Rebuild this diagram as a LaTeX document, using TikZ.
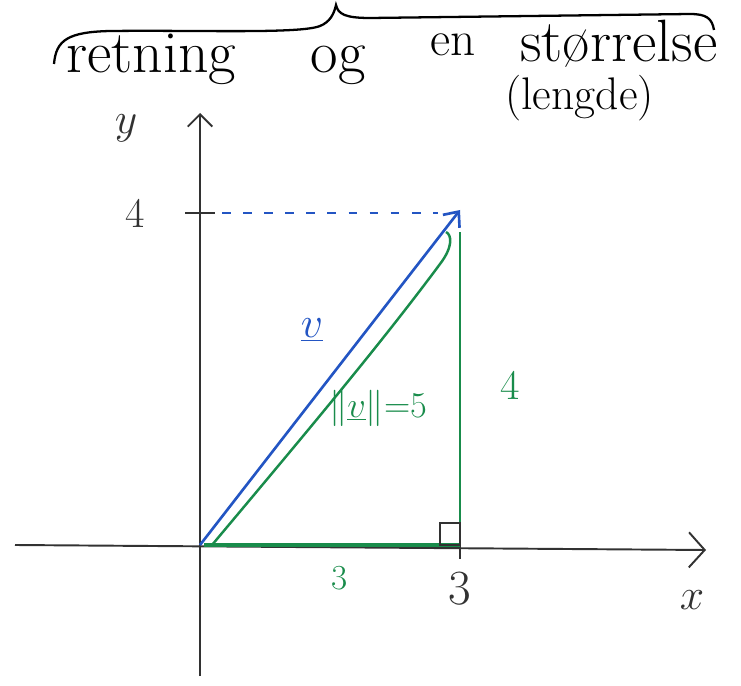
\documentclass[tikz,border=0pt]{standalone}
\usepackage{tikz}
\usetikzlibrary{arrows.meta,positioning}
\definecolor{penblue}{RGB}{35,85,195}
\definecolor{pengreen}{RGB}{25,140,75}
\definecolor{pencil}{RGB}{50,50,50}

\begin{document}
\begin{tikzpicture}[x=0.02cm, y=-0.02cm,
  axis/.style={draw=pencil, line width=1.1pt},
  vec/.style={draw=penblue, line width=1.5pt, -{Straight Barb[length=7pt,width=12pt]}},
  side/.style={draw=pengreen, line width=1.1pt},
  hand/.style={font=\fontsize{34}{36}\selectfont, inner sep=0pt, text=black},
  lbl/.style={font=\fontsize{24}{26}\selectfont, inner sep=1pt}]
  \useasboundingbox (0,0) rectangle (741,686);
  % points
  \coordinate (O) at (200,545);
  \coordinate (P) at (460,210);
  \coordinate (F) at (460,545);
  \coordinate (Ptop) at (460,232);
  \coordinate (xstart) at (15,545);
  \coordinate (xend) at (706,550);
  \coordinate (ystart) at (200,676);
  \coordinate (yend) at (200,113);
  \coordinate (ytick) at (200,213);
  % axes
  \draw[axis, -{Straight Barb[length=9pt,width=20pt]}] (xstart) -- (xend);
  \draw[axis, -{Straight Barb[length=7pt,width=14pt]}] (ystart) -- (yend);
  \node[lbl, text=pencil] (xlab) at (692,600) {$x$};
  \node[lbl, text=pencil] (ylab) at (126,128) {$y$};
  \draw[axis] (ytick) +(-15,0) -- +(15,0);
  \draw[axis] (F) -- +(0,14);
  \node[lbl, text=pencil, left=30pt of ytick] (four) {4};
  \node[lbl, text=pencil, below=14pt of F, font=\fontsize{28}{30}\selectfont] (three) {3};
  % triangle
  \draw[side, line width=2.4pt] (O) ++(4,0) -- (F);
  \draw[side] (F) -- (Ptop);
  \draw[pencil, line width=1.6pt] (F) rectangle +(-20,-22);
  \draw[side, line width=1.4pt] (O) ++(12,0) .. controls (300,440) and (380,345) .. (440,264)
    .. controls (453,247) and (452,235) .. (446,232);
  \draw[penblue, dashed, line width=1.2pt, dash pattern=on 5pt off 7pt] (ytick) ++(22,0) -- (438,213);
  \draw[vec] (O) -- (P);
  % labels
  \node[lbl, text=penblue, font=\fontsize{30}{32}\selectfont] (vlab) at (312,330) {$\underline{v}$};
  \node[lbl, text=pengreen, font=\fontsize{22}{24}\selectfont] (norm) at (378,408) {$\|\underline{v}\|{=}5$};
  \node[lbl, text=pengreen] (side4) at (510,385) {4};
  \node[lbl, text=pengreen, font=\fontsize{20}{22}\selectfont] (side3) at (340,578) {3};
  % heading with brace
  \draw[black, line width=1.3pt] (54,64) .. controls (56,40) and (68,32) .. (110,31)
    .. controls (200,30) and (300,34) .. (320,26) .. controls (330,22) and (334,14) .. (336,5)
    .. controls (338,14) and (345,18) .. (370,18) -- (690,14)
    .. controls (706,14) and (712,18) .. (714,30);
  \node[hand, anchor=base west] (ret) at (66,73) {retning};
  \node[hand, base right=42pt of ret] (og) {og};
  \node[hand, anchor=base west, font=\fontsize{28}{30}\selectfont] (en) at (430,56) {en};
  \node[hand, anchor=base west] (stor) at (520,62) {størrelse};
  \node[hand, anchor=base west, font=\fontsize{26}{28}\selectfont] (lengde) at (505,110) {(lengde)};
\end{tikzpicture}
\end{document}
